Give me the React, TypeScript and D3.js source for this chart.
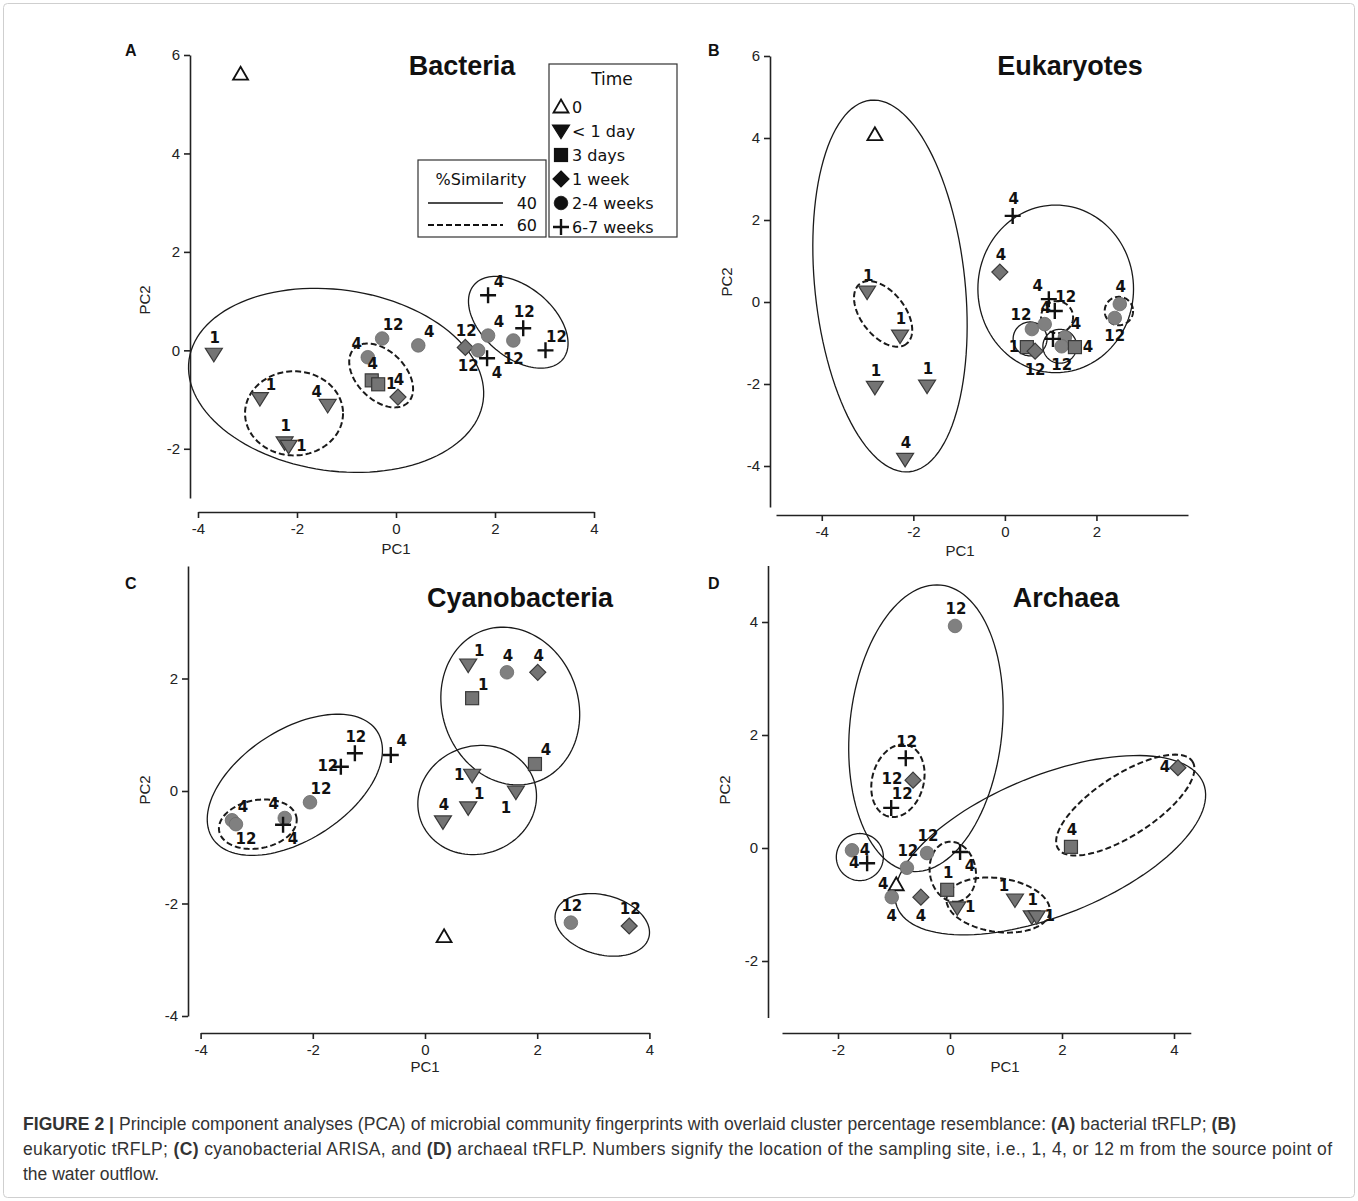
import React, { useEffect, useRef } from 'react';
import * as d3 from 'd3';

// point rows: [PC1, PC2, time, site label, label side]
type Pt = [number, number, string, string, string];
// ellipse rows: [cx, cy, semi-axis a, semi-axis b, angle deg, dashed]
type Ell = [number, number, number, number, number, boolean];

const timeLevels = ['0', '< 1 day', '3 days', '1 week', '2-4 weeks', '6-7 weeks'];
const similarityLevels = ['40', '60'];

const bacteriaPoints: Pt[] = [
  [-3.14, 5.61, '0', '', ''],
  [-3.68, -0.08, '< 1 day', '1', 'n'],
  [-2.75, -0.98, '< 1 day', '1', 'ne'],
  [-1.38, -1.12, '< 1 day', '4', 'nw'],
  [-2.25, -1.88, '< 1 day', '1', 'n'],
  [-2.17, -1.95, '< 1 day', '1', 'e'],
  [-0.28, 0.24, '2-4 weeks', '12', 'ne'],
  [-0.57, -0.14, '2-4 weeks', '4', 'nw'],
  [-0.49, -0.61, '3 days', '4', 'n'],
  [-0.36, -0.69, '3 days', '1', 'e'],
  [0.04, -0.95, '1 week', '4', 'n'],
  [0.45, 0.10, '2-4 weeks', '4', 'ne'],
  [1.40, 0.06, '1 week', '12', 'n'],
  [1.66, 0.0, '2-4 weeks', '12', 'sw'],
  [1.86, 0.30, '2-4 weeks', '4', 'ne'],
  [2.37, 0.20, '2-4 weeks', '12', 's'],
  [1.86, 1.12, '6-7 weeks', '4', 'ne'],
  [2.57, 0.45, '6-7 weeks', '12', 'n'],
  [3.02, 0.0, '6-7 weeks', '12', 'ne'],
  [1.84, -0.16, '6-7 weeks', '4', 'se'],
];
const bacteriaEllipses: Ell[] = [
  [-1.21, -0.61, 3.0, 1.83, 8, false],
  [-2.06, -1.28, 0.99, 0.85, 0, true],
  [-0.30, -0.51, 0.77, 0.49, 45, true],
  [2.47, 0.57, 1.17, 0.71, 40, false],
];

const eukaryotePoints: Pt[] = [
  [-2.84, 4.08, '0', '', ''],
  [-3.01, 0.24, '< 1 day', '1', 'n'],
  [-2.29, -0.83, '< 1 day', '1', 'n'],
  [-2.84, -2.08, '< 1 day', '1', 'n'],
  [-1.70, -2.05, '< 1 day', '1', 'n'],
  [-2.18, -3.84, '< 1 day', '4', 'n'],
  [-0.11, 0.73, '1 week', '4', 'n'],
  [0.17, 2.10, '6-7 weeks', '4', 'n'],
  [0.59, -0.66, '2-4 weeks', '12', 'nw'],
  [0.87, -0.54, '2-4 weeks', '4', 'n'],
  [1.31, -0.86, '2-4 weeks', '4', 'ne'],
  [1.24, -1.08, '2-4 weeks', '12', 's'],
  [0.48, -1.10, '3 days', '1', 'w'],
  [0.66, -1.20, '1 week', '12', 's'],
  [1.53, -1.10, '3 days', '4', 'e'],
  [0.96, 0.07, '6-7 weeks', '4', 'nw'],
  [1.09, -0.22, '6-7 weeks', '12', 'ne'],
  [1.05, -0.90, '6-7 weeks', '', ''],
  [2.51, -0.05, '2-4 weeks', '4', 'n'],
  [2.40, -0.39, '2-4 weeks', '12', 's'],
];
const eukaryoteEllipses: Ell[] = [
  [-2.51, 0.39, 4.08, 1.64, 84, false],
  [-2.66, -0.29, 0.83, 0.48, 52, true],
  [1.11, 0.32, 1.70, 1.83, 0, false],
  [0.55, -0.90, 0.37, 0.37, 0, false],
  [1.20, -1.08, 0.37, 0.37, 0, false],
  [1.14, -0.37, 0.35, 0.35, 0, true],
  [2.49, -0.22, 0.31, 0.31, 0, true],
];

const cyanoPoints: Pt[] = [
  [0.34, -2.59, '0', '', ''],
  [-1.25, 0.67, '6-7 weeks', '12', 'n'],
  [-1.50, 0.43, '6-7 weeks', '12', 'w'],
  [-2.05, -0.20, '2-4 weeks', '12', 'ne'],
  [-3.44, -0.52, '2-4 weeks', '4', 'ne'],
  [-3.37, -0.59, '2-4 weeks', '12', 'se'],
  [-2.50, -0.48, '2-4 weeks', '4', 'nw'],
  [-2.53, -0.60, '6-7 weeks', '4', 'se'],
  [-0.61, 0.64, '6-7 weeks', '4', 'ne'],
  [0.77, 2.24, '< 1 day', '1', 'ne'],
  [1.46, 2.11, '2-4 weeks', '4', 'n'],
  [2.01, 2.11, '1 week', '4', 'n'],
  [0.84, 1.65, '3 days', '1', 'ne'],
  [1.96, 0.48, '3 days', '4', 'ne'],
  [0.84, 0.28, '< 1 day', '1', 'w'],
  [1.62, -0.02, '< 1 day', '1', 'sw'],
  [0.77, -0.30, '< 1 day', '1', 'ne'],
  [0.32, -0.55, '< 1 day', '4', 'n'],
  [2.60, -2.34, '2-4 weeks', '12', 'n'],
  [3.64, -2.40, '1 week', '12', 'n'],
];
const cyanoEllipses: Ell[] = [
  [-2.32, 0.11, 1.75, 0.98, -33, false],
  [-2.98, -0.59, 0.70, 0.43, -10, true],
  [1.52, 1.51, 1.43, 1.21, 70, false],
  [0.93, -0.16, 1.07, 0.96, -20, false],
  [3.16, -2.38, 0.86, 0.53, 15, false],
];

const archaeaPoints: Pt[] = [
  [0.09, 3.93, '2-4 weeks', '12', 'n'],
  [-0.79, 1.59, '6-7 weeks', '12', 'n'],
  [-0.66, 1.20, '1 week', '12', 'ww'],
  [-1.05, 0.71, '6-7 weeks', '12', 'ne'],
  [4.07, 1.42, '1 week', '4', 'w'],
  [2.16, 0.02, '3 days', '4', 'n'],
  [1.16, -0.92, '< 1 day', '1', 'nw'],
  [1.46, -1.22, '< 1 day', '1', 'n'],
  [1.55, -1.22, '< 1 day', '1', 'e'],
  [-1.75, -0.04, '2-4 weeks', '4', 'e'],
  [-1.48, -0.27, '6-7 weeks', '4', 'w'],
  [-0.77, -0.35, '2-4 weeks', '12', 'n'],
  [-0.41, -0.09, '2-4 weeks', '12', 'n'],
  [-0.96, -0.65, '0', '4', 'w'],
  [-1.04, -0.87, '2-4 weeks', '4', 's'],
  [-0.52, -0.87, '1 week', '4', 's'],
  [-0.05, -0.74, '3 days', '1', 'n'],
  [0.13, -1.06, '< 1 day', '1', 'e'],
  [0.18, -0.07, '6-7 weeks', '4', 'se'],
];
const archaeaEllipses: Ell[] = [
  [-0.43, 2.12, 2.57, 1.36, 96, false],
  [-0.93, 1.19, 0.66, 0.46, 105, true],
  [1.79, 0.05, 2.95, 1.25, -22, false],
  [3.13, 0.76, 1.43, 0.54, -33, true],
  [0.86, -1.01, 0.93, 0.48, 8, true],
  [-1.61, -0.16, 0.42, 0.42, 0, false],
  [0.05, -0.42, 0.54, 0.41, 80, true],
];

const captionLines = [
  [['FIGURE 2 |', true], [' Principle component analyses (PCA) of microbial community fingerprints with overlaid cluster percentage resemblance: ', false], ['(A)', true], [' bacterial tRFLP; ', false], ['(B)', true]],
  [['eukaryotic tRFLP; ', false], ['(C)', true], [' cyanobacterial ARISA, and ', false], ['(D)', true], [' archaeal tRFLP. Numbers signify the location of the sampling site, i.e., 1, 4, or 12 m from the source point of', false]],
  [['the water outflow.', false]],
] as [string, boolean][][];
const captionWidths = [1213, 1309, 0];

const panels = [
  { letter: 'A', title: 'Bacteria', pts: bacteriaPoints, ells: bacteriaEllipses,
    xDom: [-4, 4], xR: [198, 594], yDom: [-3, 6], yR: [498, 55], axX: 190, axY: 512,
    xTicks: [-4, -2, 0, 2, 4], yTicks: [-2, 0, 2, 4, 6],
    titleX: 462, titleY: 75, letterX: 125, letterY: 56, pc1X: 396, pc1Y: 554, pc2X: 150, pc2Y: 300 },
  { letter: 'B', title: 'Eukaryotes', pts: eukaryotePoints, ells: eukaryoteEllipses,
    xDom: [-5, 4], xR: [776, 1188], yDom: [-5, 6], yR: [507, 56], axX: 770, axY: 515,
    xTicks: [-4, -2, 0, 2], yTicks: [-4, -2, 0, 2, 4, 6],
    titleX: 1070, titleY: 75, letterX: 708, letterY: 56, pc1X: 960, pc1Y: 556, pc2X: 732, pc2Y: 282 },
  { letter: 'C', title: 'Cyanobacteria', pts: cyanoPoints, ells: cyanoEllipses,
    xDom: [-4, 4], xR: [200.6, 649.4], yDom: [-4, 4], yR: [1016, 566], axX: 188, axY: 1033,
    xTicks: [-4, -2, 0, 2, 4], yTicks: [-4, -2, 0, 2],
    titleX: 520, titleY: 607, letterX: 125, letterY: 589, pc1X: 425, pc1Y: 1072, pc2X: 150, pc2Y: 790 },
  { letter: 'D', title: 'Archaea', pts: archaeaPoints, ells: archaeaEllipses,
    xDom: [-3, 4.3], xR: [782, 1190.8], yDom: [-3, 5], yR: [1017.5, 565.5], axX: 768, axY: 1033,
    xTicks: [-2, 0, 2, 4], yTicks: [-2, 0, 2, 4],
    titleX: 1066, titleY: 607, letterX: 708, letterY: 589, pc1X: 1005, pc1Y: 1072, pc2X: 730, pc2Y: 790 },
];

const labelOffset: Record<string, [number, number]> = {
  n: [1, -17], ne: [11, -14], e: [13, -1], se: [10, 14], s: [0, 18], sw: [-10, 15], w: [-13, -1], ww: [-21, -2], nw: [-11, -14],
};

const FONT = "'Liberation Sans', Arial, sans-serif";
const WIDE = "'DejaVu Sans', 'Liberation Sans', sans-serif";

function drawSymbol(g: d3.Selection<SVGGElement, unknown, null, undefined>, time: string, x: number, y: number, legend = false) {
  const fill = legend ? '#111' : '#747474';
  const stroke = legend ? '#111' : '#3a3a3a';
  if (time === '0') {
    g.append('path').attr('d', `M${x},${y - 7.5}L${x + 7.5},${y + 5.5}L${x - 7.5},${y + 5.5}Z`)
      .attr('fill', '#fff').attr('stroke', '#111').attr('stroke-width', 1.8);
  } else if (time === '< 1 day') {
    g.append('path').attr('d', `M${x - 8.5},${y - 6}L${x + 8.5},${y - 6}L${x},${y + 7.5}Z`)
      .attr('fill', fill).attr('stroke', stroke).attr('stroke-width', 1.2);
  } else if (time === '3 days') {
    g.append('rect').attr('x', x - 6.5).attr('y', y - 6.5).attr('width', 13).attr('height', 13)
      .attr('fill', fill).attr('stroke', stroke).attr('stroke-width', 1.2);
  } else if (time === '1 week') {
    g.append('path').attr('d', `M${x},${y - 8}L${x + 8},${y}L${x},${y + 8}L${x - 8},${y}Z`)
      .attr('fill', fill).attr('stroke', stroke).attr('stroke-width', 1.2);
  } else if (time === '2-4 weeks') {
    g.append('circle').attr('cx', x).attr('cy', y).attr('r', 6.8)
      .attr('fill', legend ? '#111' : '#808080').attr('stroke', legend ? '#111' : '#6a6a6a').attr('stroke-width', 0.8);
  } else {
    g.append('path').attr('d', `M${x - 8},${y}H${x + 8}M${x},${y - 8}V${y + 8}`)
      .attr('stroke', '#111').attr('stroke-width', 2.4).attr('fill', 'none');
  }
}

export default function App() {
  const svgRef = useRef<SVGSVGElement>(null);

  useEffect(() => {
    if (!svgRef.current) return;
    const svg = d3.select(svgRef.current);
    svg.selectAll('*').remove();

    svg.append('rect').attr('x', 3.5).attr('y', 3.5).attr('width', 1351).attr('height', 1194)
      .attr('rx', 4).attr('fill', '#fff').attr('stroke', '#cfcfcf').attr('stroke-width', 1);

    panels.forEach(p => {
      const g = svg.append('g');
      const x = d3.scaleLinear().domain(p.xDom).range(p.xR);
      const y = d3.scaleLinear().domain(p.yDom).range(p.yR);
      const k = x(1) - x(0);

      // axes (offset, R style)
      const xa = g.append('g').attr('transform', `translate(0,${p.axY})`)
        .call(d3.axisBottom(x).tickValues(p.xTicks).tickSize(6).tickSizeOuter(0).tickPadding(5).tickFormat(d3.format('d')));
      const ya = g.append('g').attr('transform', `translate(${p.axX},0)`)
        .call(d3.axisLeft(y).tickValues(p.yTicks).tickSize(6).tickSizeOuter(0).tickPadding(4).tickFormat(d3.format('d')));
      [xa, ya].forEach(a => {
        a.selectAll('path,line').attr('stroke', '#222').attr('stroke-width', 1.6);
        a.selectAll('text').attr('font-family', FONT).attr('font-size', 15).attr('fill', '#222');
      });
      xa.selectAll('text').text(d => (d as number) < 0 ? '-' + Math.abs(d as number) : String(d));
      ya.selectAll('text').text(d => (d as number) < 0 ? '-' + Math.abs(d as number) : String(d));

      g.append('text').attr('x', p.pc1X).attr('y', p.pc1Y).attr('text-anchor', 'middle')
        .attr('font-family', FONT).attr('font-size', 15).attr('fill', '#222').text('PC1');
      g.append('text').attr('transform', `translate(${p.pc2X},${p.pc2Y}) rotate(-90)`).attr('text-anchor', 'middle')
        .attr('font-family', FONT).attr('font-size', 15).attr('fill', '#222').text('PC2');

      g.append('text').attr('x', p.letterX).attr('y', p.letterY).attr('font-family', FONT)
        .attr('font-weight', 'bold').attr('font-size', 16).attr('fill', '#111').text(p.letter);
      g.append('text').attr('x', p.titleX).attr('y', p.titleY).attr('text-anchor', 'middle').attr('font-family', FONT)
        .attr('font-weight', 'bold').attr('font-size', 27).attr('fill', '#111').text(p.title);

      // similarity ellipses
      const line = d3.line<[number, number]>().curve(d3.curveLinearClosed);
      p.ells.forEach(([cx, cy, a, b, ang, dashed]) => {
        const th = (ang * Math.PI) / 180;
        const pts: [number, number][] = d3.range(0, 120).map(i => {
          const t = (i / 120) * 2 * Math.PI;
          const lx = a * Math.cos(t) * k, ly = b * Math.sin(t) * k;
          return [x(cx) + lx * Math.cos(th) - ly * Math.sin(th), y(cy) + lx * Math.sin(th) + ly * Math.cos(th)];
        });
        g.append('path').attr('d', line(pts)).attr('fill', 'none').attr('stroke', '#1a1a1a')
          .attr('stroke-width', dashed ? 2 : 1.3).attr('stroke-dasharray', dashed ? '6 3' : null);
      });

      // points and site labels
      p.pts.forEach(([pc1, pc2, time]) => drawSymbol(g, time, x(pc1), y(pc2)));
      p.pts.forEach(([pc1, pc2, , site, side]) => {
        if (!site) return;
        const [dx, dy] = labelOffset[side];
        g.append('text').attr('x', x(pc1) + dx).attr('y', y(pc2) + dy).attr('dy', '0.36em')
          .attr('text-anchor', 'middle').attr('font-family', WIDE).attr('font-weight', 'bold')
          .attr('font-size', 15).attr('fill', '#111').text(site);
      });
    });

    // legends in panel A
    const lg = svg.append('g');
    lg.append('rect').attr('x', 418).attr('y', 160).attr('width', 128).attr('height', 77)
      .attr('fill', '#fff').attr('stroke', '#333').attr('stroke-width', 1.2);
    lg.append('text').attr('x', 481).attr('y', 185).attr('text-anchor', 'middle').attr('font-family', WIDE)
      .attr('font-size', 16).attr('fill', '#111').text('%Similarity');
    similarityLevels.forEach((lvl, i) => {
      const yy = 203 + i * 22;
      lg.append('line').attr('x1', 428).attr('x2', 503).attr('y1', yy).attr('y2', yy)
        .attr('stroke', '#111').attr('stroke-width', i ? 2 : 1.5).attr('stroke-dasharray', i ? '6 3' : null);
      lg.append('text').attr('x', 537).attr('y', yy + 6).attr('text-anchor', 'end').attr('font-family', WIDE)
        .attr('font-size', 16).attr('fill', '#111').text(lvl);
    });
    lg.append('rect').attr('x', 549).attr('y', 64).attr('width', 128).attr('height', 173)
      .attr('fill', '#fff').attr('stroke', '#333').attr('stroke-width', 1.2);
    lg.append('text').attr('x', 612).attr('y', 85).attr('text-anchor', 'middle').attr('font-family', WIDE)
      .attr('font-size', 17).attr('fill', '#111').text('Time');
    timeLevels.forEach((t, i) => {
      const yy = 107 + i * 24;
      drawSymbol(lg, t, 561, yy, true);
      lg.append('text').attr('x', 572).attr('y', yy + 6).attr('font-family', WIDE)
        .attr('font-size', 16).attr('fill', '#111').text(t);
    });

    // caption
    captionLines.forEach((segs, i) => {
      const t = svg.append('text').attr('x', 23).attr('y', 1130 + i * 25).attr('font-family', FONT)
        .attr('font-size', 17.5).attr('fill', '#333');
      if (captionWidths[i]) t.attr('textLength', captionWidths[i]).attr('lengthAdjust', 'spacing');
      segs.forEach(([s, bold]) => t.append('tspan').attr('font-weight', bold ? 'bold' : 'normal').text(s));
    });
  }, []);

  return (
    <svg ref={svgRef} width={1358} height={1201}
      style={{ position: 'absolute', left: 0, top: 0, background: '#fff' }} />
  );
}
